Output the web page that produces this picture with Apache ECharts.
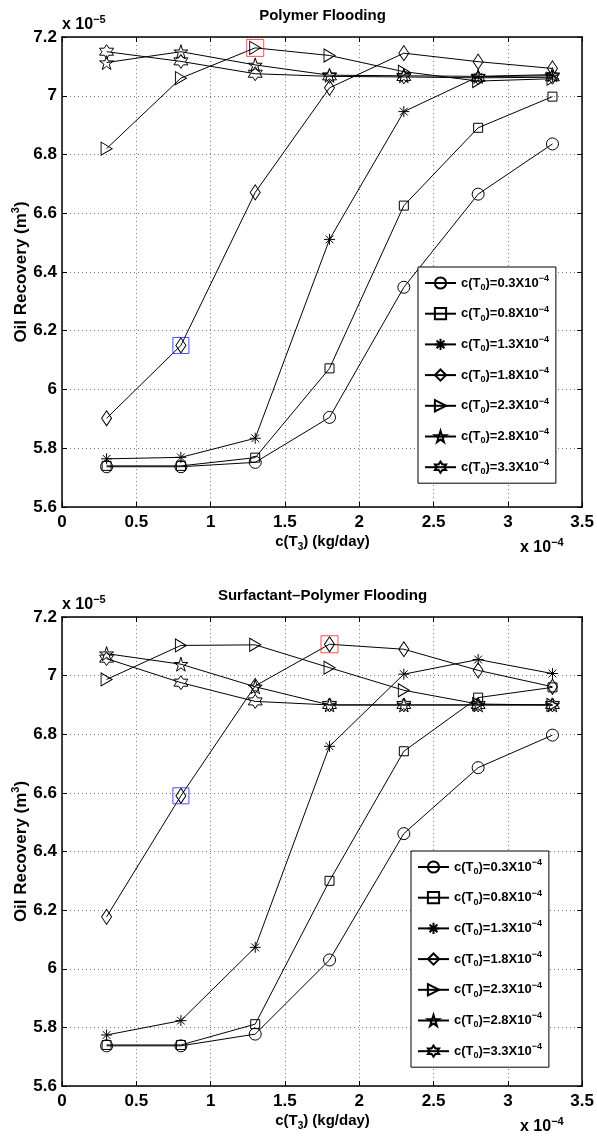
<!DOCTYPE html>
<html>
<head>
<meta charset="utf-8">
<script src="https://cdn.jsdelivr.net/npm/echarts@6/dist/echarts.min.js"></script>
<style>
  html, body { margin: 0; padding: 0; background: #fff; }
  #chart { width: 597px; height: 1137px; }
</style>
</head>
<body>
<div id="chart"></div>
<script>
// injection concentration c(T3), x 10^-4 kg/day
const xValues = [0.3, 0.8, 1.3, 1.8, 2.3, 2.8, 3.3]
// c(T0) of each curve, x 10^-4
const seriesNames = ['0.3', '0.8', '1.3', '1.8', '2.3', '2.8', '3.3']
const xTicks = [0, 0.5, 1, 1.5, 2, 2.5, 3, 3.5]
const yTicks = [5.6, 5.8, 6, 6.2, 6.4, 6.6, 6.8, 7, 7.2]

// Polymer flooding, oil recovery x 10^-5 m^3
const polyC03 = [5.737, 5.737, 5.752, 5.905, 6.348, 6.665, 6.836]
const polyC08 = [5.740, 5.740, 5.768, 6.072, 6.626, 6.891, 6.997]
const polyC13 = [5.764, 5.769, 5.834, 6.511, 6.946, 7.065, 7.068]
const polyC18 = [5.902, 6.150, 6.671, 7.027, 7.145, 7.116, 7.093]
const polyC23 = [6.820, 7.060, 7.163, 7.137, 7.082, 7.050, 7.058]
const polyC28 = [7.113, 7.150, 7.105, 7.070, 7.068, 7.066, 7.072]
const polyC33 = [7.150, 7.117, 7.075, 7.066, 7.064, 7.061, 7.063]
const polyRed = [1.3, 7.163]
const polyBlue = [0.8, 6.150]

// Surfactant-polymer flooding
const spC03 = [5.737, 5.737, 5.777, 6.030, 6.461, 6.686, 6.797]
const spC08 = [5.740, 5.740, 5.811, 6.300, 6.742, 6.925, 6.960]
const spC13 = [5.774, 5.823, 6.073, 6.759, 7.005, 7.055, 7.007]
const spC18 = [6.177, 6.590, 6.965, 7.107, 7.090, 7.018, 6.962]
const spC23 = [6.987, 7.103, 7.105, 7.027, 6.950, 6.903, 6.900]
const spC28 = [7.075, 7.039, 6.962, 6.900, 6.900, 6.900, 6.900]
const spC33 = [7.058, 6.976, 6.912, 6.900, 6.900, 6.900, 6.900]
const spRed = [1.8, 7.107]
const spBlue = [0.8, 6.590]

const FONT = '"Liberation Sans", Arial, Helvetica, sans-serif'

// matlab style markers: o, s, *, d, >, p, h
const markers = [
  { symbol: 'circle', size: 12 },
  { symbol: 'rect', size: 9 },
  { symbol: 'path://M0,-1L0,1M-1,0L1,0M-0.7,-0.7L0.7,0.7M-0.7,0.7L0.7,-0.7', size: 11 },
  { symbol: 'diamond', size: [10, 15] },
  { symbol: 'path://M-1,-1L1,0L-1,1Z', size: [11, 13] },
  { symbol: 'path://M0,-1L0.2245,-0.309L0.951,-0.309L0.3633,0.118L0.5878,0.809L0,0.382L-0.5878,0.809L-0.3633,0.118L-0.951,-0.309L-0.2245,-0.309Z', size: 14 },
  { symbol: 'path://M0,-1L0.2887,-0.5L0.866,-0.5L0.577,0L0.866,0.5L0.2887,0.5L0,1L-0.2887,0.5L-0.866,0.5L-0.577,0L-0.866,-0.5L-0.2887,-0.5Z', size: 14 }
]

const grids = [
  { left: 62, top: 37, width: 521, height: 470 },
  { left: 62, top: 617, width: 521, height: 469 }
]

function xAxes(i) {
  const base = {
    type: 'value', gridIndex: i, min: xTicks[0], max: xTicks[xTicks.length - 1],
    interval: 0.5,
    axisLine: { show: true, onZero: false, lineStyle: { color: '#000', width: 1.5 } },
    axisTick: { show: true, inside: true, length: 5, lineStyle: { color: '#000' } }
  }
  return [
    Object.assign({}, base, {
      position: 'bottom',
      axisLabel: { show: true, margin: 7, color: '#000', fontSize: 17, fontWeight: 'bold', fontFamily: FONT, showMaxLabel: true, showMinLabel: true },
      splitLine: { show: true, lineStyle: { color: '#777', type: [1, 3], width: 1 } }
    }),
    Object.assign({}, base, {
      position: 'top',
      axisLabel: { show: false },
      splitLine: { show: false }
    })
  ]
}

function yAxes(i) {
  const base = {
    type: 'value', gridIndex: i, min: yTicks[0], max: yTicks[yTicks.length - 1],
    interval: 0.2,
    axisLine: { show: true, onZero: false, lineStyle: { color: '#000', width: 1.5 } },
    axisTick: { show: true, inside: true, length: 5, lineStyle: { color: '#000' } }
  }
  return [
    Object.assign({}, base, {
      position: 'left',
      axisLabel: { show: true, margin: 5, color: '#000', fontSize: 17, fontWeight: 'bold', fontFamily: FONT },
      splitLine: { show: true, lineStyle: { color: '#777', type: [1, 3], width: 1 } }
    }),
    Object.assign({}, base, {
      position: 'right',
      axisLabel: { show: false },
      splitLine: { show: false }
    })
  ]
}

function lineSeries(i, arrays, red, blue) {
  const out = arrays.map((arr, k) => ({
    name: seriesNames[k],
    type: 'line',
    xAxisIndex: 2 * i,
    yAxisIndex: 2 * i,
    data: xValues.map((x, j) => [x, arr[j]]),
    symbol: markers[k].symbol,
    symbolSize: markers[k].size,
    showSymbol: true,
    itemStyle: { color: 'rgba(255,255,255,0)', borderColor: '#000', borderWidth: 1 },
    lineStyle: { color: '#000', width: 1 },
    emphasis: { disabled: true },
    animation: false
  }))
  out.push({
    type: 'scatter', xAxisIndex: 2 * i, yAxisIndex: 2 * i,
    data: [red], symbol: 'rect', symbolSize: 17,
    itemStyle: { color: 'rgba(255,255,255,0)', borderColor: '#ff2020', borderWidth: 1 },
    emphasis: { disabled: true }, animation: false, z: 5
  })
  out.push({
    type: 'scatter', xAxisIndex: 2 * i, yAxisIndex: 2 * i,
    data: [blue], symbol: 'rect', symbolSize: 16,
    itemStyle: { color: 'rgba(255,255,255,0)', borderColor: '#2020ff', borderWidth: 1 },
    emphasis: { disabled: true }, animation: false, z: 5
  })
  return out
}

const legendRich = {
  a: { fontSize: 13, fontWeight: 'bold', fontFamily: FONT, color: '#000', lineHeight: 18 },
  b: { fontSize: 9, fontWeight: 'bold', fontFamily: FONT, color: '#000', verticalAlign: 'bottom' },
  c: { fontSize: 9, fontWeight: 'bold', fontFamily: FONT, color: '#000', verticalAlign: 'top' }
}

function legend(left, top) {
  return {
    data: seriesNames,
    orient: 'vertical',
    left: left,
    top: top,
    backgroundColor: '#fff',
    borderColor: '#000',
    borderWidth: 1,
    borderRadius: 0,
    padding: [7, 7, 7, 6],
    itemGap: 12.7,
    itemWidth: 31,
    itemHeight: 14,
    selectedMode: false,
    formatter: name => '{a|c(T}{b|0}{a|)=' + name + 'X10}{c|\u22124}',
    textStyle: { rich: legendRich }
  }
}

const labelRich = {
  a: { fontSize: 15, fontWeight: 'bold', fontFamily: FONT, fill: '#000', lineHeight: 20 },
  sub: { fontSize: 10, fontWeight: 'bold', fontFamily: FONT, fill: '#000', verticalAlign: 'bottom' },
  sup: { fontSize: 10, fontWeight: 'bold', fontFamily: FONT, fill: '#000', verticalAlign: 'top' }
}
const yLabelRich = {
  a: { fontSize: 17, fontWeight: 'bold', fontFamily: FONT, fill: '#000', lineHeight: 22 },
  sup: { fontSize: 11, fontWeight: 'bold', fontFamily: FONT, fill: '#000', verticalAlign: 'top' }
}
const multRich = {
  a: { fontSize: 16, fontWeight: 'bold', fontFamily: FONT, fill: '#000', lineHeight: 22 },
  sup: { fontSize: 11, fontWeight: 'bold', fontFamily: FONT, fill: '#000', verticalAlign: 'top' }
}

function texts(i, title) {
  const g = grids[i]
  const cx = g.left + g.width / 2
  const cy = g.top + g.height / 2
  const bottom = g.top + g.height
  return [
    { type: 'text', x: cx, y: g.top - 21, style: { text: title, font: 'bold 15px ' + FONT, fill: '#000', align: 'center', verticalAlign: 'middle' } },
    { type: 'text', x: g.left, y: g.top - 12, style: { text: '{a|x 10}{sup|\u22125}', rich: multRich, align: 'left', verticalAlign: 'middle' } },
    { type: 'text', x: 520, y: bottom + 41, style: { text: '{a|x 10}{sup|\u22124}', rich: multRich, align: 'left', verticalAlign: 'middle' } },
    { type: 'text', x: cx, y: bottom + 35, style: { text: '{a|c(T}{sub|3}{a|) (kg/day)}', rich: labelRich, align: 'center', verticalAlign: 'middle' } },
    { type: 'text', x: 21, y: cy, rotation: Math.PI / 2, style: { text: '{a|Oil Recovery (m}{sup|3}{a|)}', rich: yLabelRich, align: 'center', verticalAlign: 'middle' } }
  ]
}

const chart = echarts.init(document.getElementById('chart'), null, { renderer: 'canvas' })
chart.setOption({
  backgroundColor: '#fff',
  animation: false,
  grid: grids,
  xAxis: xAxes(0).concat(xAxes(1)),
  yAxis: yAxes(0).concat(yAxes(1)),
  legend: [legend(418, 267), legend(411, 851)],
  series: lineSeries(0, [polyC03, polyC08, polyC13, polyC18, polyC23, polyC28, polyC33], polyRed, polyBlue)
    .concat(lineSeries(1, [spC03, spC08, spC13, spC18, spC23, spC28, spC33], spRed, spBlue)),
  graphic: texts(0, 'Polymer Flooding').concat(texts(1, 'Surfactant\u2013Polymer Flooding'))
})
</script>
</body>
</html>
